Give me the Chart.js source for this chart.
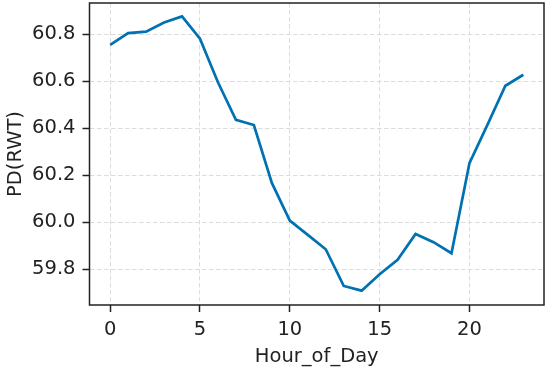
<!DOCTYPE html>
<html>
<head>
<meta charset="utf-8">
<script src="https://cdn.jsdelivr.net/npm/chart.js@4"></script>
<style>
  html, body { margin: 0; padding: 0; background: #fff; }
  #wrap { width: 550px; height: 374px; position: relative; }
</style>
</head>
<body>
<div id="wrap"><canvas id="myChart"></canvas></div>
<script>
// hourly values
const hours = [0, 1, 2, 3, 4, 5, 6, 7, 8, 9, 10, 11, 12, 13, 14, 15, 16, 17, 18, 19, 20, 21, 22, 23]
const pd = [60.754, 60.804, 60.810, 60.849, 60.875, 60.780, 60.595, 60.435, 60.413, 60.167,
  60.007, 59.946, 59.885, 59.729, 59.709, 59.779, 59.840, 59.950, 59.915, 59.868,
  60.251, 60.414, 60.580, 60.627]
const xTicks = [0, 5, 10, 15, 20]
const yTicks = [59.8, 60.0, 60.2, 60.4, 60.6, 60.8]

const font = { family: "'DejaVu Sans', sans-serif", size: 19.5 }
const ctx1 = document.getElementById("myChart")

let points = []
for (var i = 0; i < hours.length; i++) {
  points.push({ x: hours[i], y: pd[i] })
}

// matplotlib-ish frame around the plot area
const frame = {
  id: 'frame',
  afterDraw(chart) {
    const a = chart.chartArea
    const c = chart.ctx
    c.save()
    c.strokeStyle = '#222'
    c.lineWidth = 1.5
    c.strokeRect(a.left, a.top, a.right - a.left, a.bottom - a.top)
    c.restore()
  }
}

// no extra room for label overflow, plot area is set by layout padding
function noPad(s) {
  s.paddingTop = 0
  s.paddingBottom = 0
  s.paddingLeft = 0
  s.paddingRight = 0
}

var myChart = new Chart(ctx1, {
  type: 'line',
  data: {
    datasets: [{
      data: points,
      borderColor: '#0072b2',
      borderWidth: 2.7,
      pointRadius: 0,
      tension: 0,
      fill: false
    }]
  },
  plugins: [frame],
  options: {
    responsive: true,
    maintainAspectRatio: false,
    animation: false,
    layout: { padding: { left: 0, top: 3, right: 6, bottom: 0 } },
    plugins: { legend: { display: false }, tooltip: { enabled: false } },
    scales: {
      x: {
        type: 'linear',
        min: -1.15,
        max: 24.15,
        afterBuildTicks: s => { s.ticks = xTicks.map(v => ({ value: v })) },
        afterFit: s => { s.height = 69; noPad(s) },
        grid: { color: '#dcdcdc', lineWidth: 1, tickLength: 7, tickColor: '#222', tickWidth: 1.5 },
        border: { display: false, dash: [4.5, 2.5] },
        ticks: { color: '#222', font: font, padding: 6, maxRotation: 0 },
        title: { display: true, text: 'Hour_of_Day', color: '#222', font: font, padding: { top: 0, bottom: 5 } }
      },
      y: {
        min: 59.648,
        max: 60.932,
        afterBuildTicks: s => { s.ticks = yTicks.map(v => ({ value: v })) },
        afterFit: s => { s.width = 89.5; noPad(s) },
        grid: { color: '#dcdcdc', lineWidth: 1, tickLength: 7, tickColor: '#222', tickWidth: 1.5 },
        border: { display: false, dash: [4.5, 2.5] },
        ticks: { color: '#222', font: font, padding: 7, callback: v => v.toFixed(1) },
        title: { display: true, text: 'PD(RWT)', color: '#222', font: font, padding: { top: 4, bottom: 0 } }
      }
    }
  }
});
</script>
</body>
</html>
